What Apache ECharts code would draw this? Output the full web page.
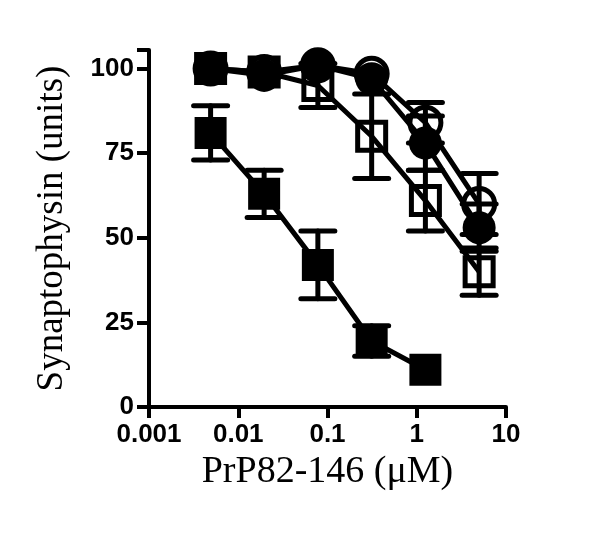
<!DOCTYPE html>
<html>
<head>
<meta charset="utf-8">
<script src="https://cdn.jsdelivr.net/npm/echarts@6/dist/echarts.min.js"></script>
<style>html,body{margin:0;padding:0;background:#fff}#c{width:600px;height:536px}</style>
</head>
<body>
<div id="c"></div>
<script>
// concentrations (µM)
const concentrations = [0.0049, 0.0195, 0.078, 0.3125, 1.25, 5];
// filled squares
const filledSquareMean = [81, 63, 42, 19.5, 11];
const filledSquareErr  = [8, 7, 10, 4.5, 0];
// open squares
const openSquareMean = [100, 99, 95, 80, 61, 40];
const openSquareErr  = [0, 0, 6.5, 12.5, 9, 7];
// open circles
const openCircleMean = [100, 99, 101, 98.5, 84, 60];
const openCircleErr  = [0, 0, 0, 0, 6, 9];
// filled circles
const filledCircleMean = [100, 98, 101, 97, 78, 53];
const filledCircleErr  = [0, 0, 0, 0, 8, 7];
// tick labels
const xTickLabels = {0.001: '0.001', 0.01: '0.01', 0.1: '0.1', 1: '1', 10: '10'};
const yTicks = [0, 25, 50, 75, 100];

function pts(mean) { return mean.map((v, i) => [concentrations[i], v]); }
function errPts(mean, err) { return mean.map((v, i) => [concentrations[i], v, err[i]]); }

function errorSeries(mean, err) {
  return {
    type: 'custom',
    data: errPts(mean, err),
    z: 2,
    renderItem: function (params, api) {
      const x = api.value(0), y = api.value(1), e = api.value(2);
      if (!e) return null;
      const hi = api.coord([x, y + e]);
      const lo = api.coord([x, y - e]);
      const hw = 17;
      const st = { stroke: '#000', lineWidth: 5, lineCap: 'round' };
      return {
        type: 'group',
        children: [
          { type: 'line', shape: { x1: hi[0], y1: hi[1], x2: lo[0], y2: lo[1] }, style: st },
          { type: 'line', shape: { x1: hi[0] - hw, y1: hi[1], x2: hi[0] + hw, y2: hi[1] }, style: st },
          { type: 'line', shape: { x1: lo[0] - hw, y1: lo[1], x2: lo[0] + hw, y2: lo[1] }, style: st }
        ]
      };
    }
  };
}

function lineSeries(mean, symbol, size, open) {
  return {
    type: 'line',
    data: pts(mean),
    symbol: symbol,
    symbolSize: size,
    z: 3,
    lineStyle: { color: '#000', width: 5 },
    itemStyle: open
      ? { color: 'rgba(0,0,0,0)', borderColor: '#000', borderWidth: 5 }
      : { color: '#000', borderWidth: 0 },
    emphasis: { disabled: true },
    animation: false
  };
}

const chart = echarts.init(document.getElementById('c'), null, { renderer: 'canvas' });
chart.setOption({
  animation: false,
  grid: { left: 149, right: 94, top: 50, bottom: 129, containLabel: false },
  xAxis: {
    type: 'log',
    logBase: 10,
    min: 0.001,
    max: 10,
    name: 'PrP82-146 (\u03bcM)',
    nameLocation: 'middle',
    nameGap: 30,
    nameTextStyle: { fontFamily: 'Liberation Serif', fontSize: 38, color: '#000' },
    axisLine: { lineStyle: { color: '#000', width: 4 } },
    axisTick: { length: 11, lineStyle: { color: '#000', width: 4 } },
    minorTick: { show: false },
    splitLine: { show: false },
    axisLabel: {
      margin: 15,
      fontFamily: 'Liberation Sans',
      fontWeight: 'bold',
      fontSize: 26,
      color: '#000',
      formatter: function (v) {
        for (const k in xTickLabels) { if (Math.abs(Math.log10(v) - Math.log10(+k)) < 1e-6) return xTickLabels[k]; }
        return '';
      }
    }
  },
  yAxis: {
    type: 'value',
    min: 0,
    max: 105.5,
    interval: 25,
    name: 'Synaptophysin (units)',
    nameLocation: 'middle',
    nameGap: 78,
    nameRotate: 90,
    nameTextStyle: { fontFamily: 'Liberation Serif', fontSize: 37, color: '#000' },
    axisLine: { show: true, lineStyle: { color: '#000', width: 4 } },
    axisTick: { show: true, length: 12, lineStyle: { color: '#000', width: 4 } },
    splitLine: { show: false },
    axisLabel: {
      margin: 15,
      fontFamily: 'Liberation Sans',
      fontWeight: 'bold',
      fontSize: 26,
      color: '#000',
      formatter: function (v) { return yTicks.indexOf(v) >= 0 ? String(v) : ''; }
    }
  },
  series: [
    errorSeries(openSquareMean, openSquareErr),
    lineSeries(openSquareMean, 'rect', 28, true),
    errorSeries(openCircleMean, openCircleErr),
    lineSeries(openCircleMean, 'circle', 31, true),
    errorSeries(filledCircleMean, filledCircleErr),
    lineSeries(filledCircleMean, 'circle', 33, false),
    errorSeries(filledSquareMean, filledSquareErr),
    lineSeries(filledSquareMean, 'rect', 32, false)
  ]
});
</script>
</body>
</html>
